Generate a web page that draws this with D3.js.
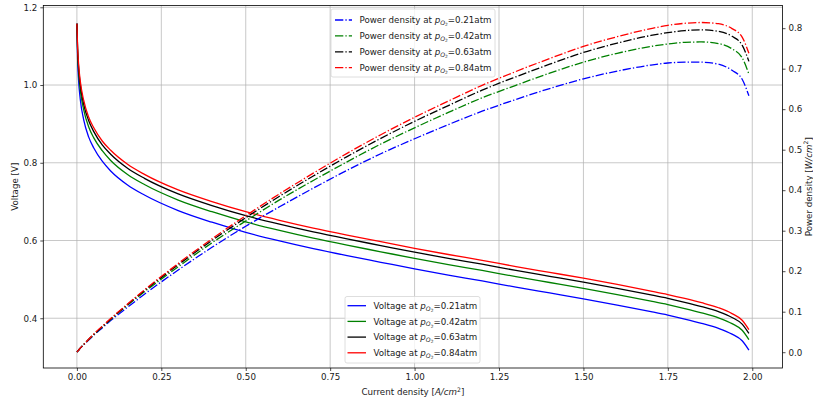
<!DOCTYPE html>
<html>
<head>
<meta charset="utf-8">
<script src="https://cdn.jsdelivr.net/npm/d3@7"></script>
<style>
  body { margin: 0; background: #fff; }
  svg { display: block; }
  text { font-family: "DejaVu Sans", sans-serif; fill: #1a1a1a; }
</style>
</head>
<body>
<svg id="chart" width="813" height="405"></svg>
<script>
// Current density samples [A/cm^2]
const currentDensity = [0, 0.002, 0.005, 0.01, 0.02, 0.035, 0.05, 0.075, 0.1, 0.15, 0.2, 0.3, 0.4, 0.5,
  0.6, 0.7, 0.8, 0.9, 1.0, 1.1, 1.2, 1.3, 1.4, 1.5, 1.6, 1.7, 1.75, 1.8, 1.85, 1.9, 1.94, 1.97, 1.99];

// Oxygen partial pressures and line colours
const pressures = ["0.21", "0.42", "0.63", "0.84"];
const seriesColors = ["#0000ff", "#008000", "#000000", "#ff0000"];

// Cell voltage [V]
const voltage021 = [1.158, 1.068, 1.012, 0.963, 0.911, 0.866, 0.838, 0.804, 0.779, 0.743, 0.717, 0.677, 0.647, 0.621,
  0.599, 0.579, 0.561, 0.544, 0.527, 0.511, 0.496, 0.480, 0.465, 0.450, 0.434, 0.417, 0.408, 0.398, 0.387, 0.374, 0.359, 0.342, 0.318];
const voltage042 = [1.158, 1.085, 1.034, 0.987, 0.937, 0.892, 0.864, 0.831, 0.806, 0.770, 0.744, 0.704, 0.674, 0.648,
  0.626, 0.606, 0.588, 0.571, 0.554, 0.538, 0.523, 0.507, 0.492, 0.477, 0.461, 0.444, 0.435, 0.425, 0.414, 0.401, 0.386, 0.369, 0.345];
const voltage063 = [1.158, 1.094, 1.046, 1.001, 0.951, 0.908, 0.880, 0.846, 0.822, 0.786, 0.760, 0.720, 0.690, 0.664,
  0.642, 0.622, 0.604, 0.587, 0.570, 0.554, 0.539, 0.523, 0.508, 0.493, 0.477, 0.460, 0.451, 0.441, 0.430, 0.417, 0.402, 0.385, 0.361];
const voltage084 = [1.158, 1.100, 1.054, 1.010, 0.961, 0.917, 0.890, 0.856, 0.832, 0.796, 0.770, 0.730, 0.700, 0.674,
  0.652, 0.632, 0.614, 0.597, 0.580, 0.564, 0.549, 0.533, 0.518, 0.503, 0.487, 0.470, 0.461, 0.451, 0.440, 0.427, 0.412, 0.395, 0.371];

// Power density [W/cm^2]
const power021 = [0, 0.002, 0.005, 0.010, 0.018, 0.030, 0.042, 0.060, 0.078, 0.111, 0.143, 0.203, 0.259, 0.311,
  0.359, 0.405, 0.449, 0.490, 0.527, 0.562, 0.595, 0.624, 0.651, 0.675, 0.694, 0.709, 0.714, 0.716, 0.716, 0.711, 0.696, 0.674, 0.633];
const power042 = [0, 0.002, 0.005, 0.010, 0.019, 0.031, 0.043, 0.062, 0.081, 0.116, 0.149, 0.211, 0.270, 0.324,
  0.376, 0.424, 0.470, 0.514, 0.554, 0.592, 0.628, 0.659, 0.689, 0.716, 0.738, 0.755, 0.761, 0.765, 0.766, 0.762, 0.749, 0.727, 0.687];
const power063 = [0, 0.002, 0.005, 0.010, 0.019, 0.032, 0.044, 0.063, 0.082, 0.118, 0.152, 0.216, 0.276, 0.332,
  0.385, 0.435, 0.483, 0.528, 0.570, 0.609, 0.647, 0.680, 0.711, 0.740, 0.763, 0.782, 0.789, 0.794, 0.796, 0.792, 0.780, 0.758, 0.718];
const power084 = [0, 0.002, 0.005, 0.010, 0.019, 0.032, 0.045, 0.064, 0.083, 0.119, 0.154, 0.219, 0.280, 0.337,
  0.391, 0.442, 0.491, 0.537, 0.580, 0.620, 0.659, 0.693, 0.725, 0.755, 0.779, 0.799, 0.807, 0.812, 0.814, 0.811, 0.799, 0.778, 0.738];

// Tick values
const xTicks = [0, 0.25, 0.5, 0.75, 1.0, 1.25, 1.5, 1.75, 2.0];
const voltageTicks = [0.4, 0.6, 0.8, 1.0, 1.2];
const powerTicks = [0, 0.1, 0.2, 0.3, 0.4, 0.5, 0.6, 0.7, 0.8];

const voltageSeries = [voltage021, voltage042, voltage063, voltage084];
const powerSeries = [power021, power042, power063, power084];

const FS = 8.7;
const plot = { left: 43.3, right: 782.5, top: 5.5, bottom: 368 };

const svg = d3.select("#chart");

const x = d3.scaleLinear().domain([-0.0995, 2.0895]).range([plot.left, plot.right]);
const yV = d3.scaleLinear().domain([0.272, 1.2046]).range([plot.bottom, plot.top]);
const yP = d3.scaleLinear().domain([-0.039, 0.856]).range([plot.bottom, plot.top]);

svg.append("defs").append("clipPath").attr("id", "plotClip")
  .append("rect")
  .attr("x", plot.left).attr("y", plot.top)
  .attr("width", plot.right - plot.left).attr("height", plot.bottom - plot.top);

// Grid lines (x ticks and left-axis ticks)
const grid = svg.append("g").attr("stroke", "#b0b0b0").attr("stroke-width", 0.7);
grid.selectAll("line.vx").data(xTicks).join("line")
  .attr("x1", d => x(d)).attr("x2", d => x(d))
  .attr("y1", plot.top).attr("y2", plot.bottom);
grid.selectAll("line.hy").data(voltageTicks).join("line")
  .attr("x1", plot.left).attr("x2", plot.right)
  .attr("y1", d => yV(d)).attr("y2", d => yV(d));

const clipped = svg.append("g").attr("clip-path", "url(#plotClip)");

// Voltage curves (solid)
const voltLine = d3.line()
  .x((d, i) => x(currentDensity[i]))
  .y(d => yV(d))
  .curve(d3.curveMonotoneX);
clipped.append("g").selectAll("path").data(voltageSeries).join("path")
  .attr("d", voltLine)
  .attr("fill", "none")
  .attr("stroke", (d, i) => seriesColors[i])
  .attr("stroke-width", 1.3);

// Power density curves (dash-dot)
const powerLine = d3.line()
  .x((d, i) => x(currentDensity[i]))
  .y(d => yP(d))
  .curve(d3.curveMonotoneX);
const dashDot = "8.3,2.1,1.3,2.1";
clipped.append("g").selectAll("path").data(powerSeries).join("path")
  .attr("d", powerLine)
  .attr("fill", "none")
  .attr("stroke", (d, i) => seriesColors[i])
  .attr("stroke-width", 1.3)
  .attr("stroke-dasharray", dashDot);

// Axes
function styleAxis(g) {
  g.select(".domain").remove();
  g.selectAll(".tick line").attr("stroke", "#000").attr("stroke-width", 0.7);
  g.selectAll(".tick text").attr("font-size", FS).attr("fill", "#1a1a1a")
    .attr("font-family", "DejaVu Sans");
}

svg.append("g")
  .attr("transform", `translate(0,${plot.bottom})`)
  .call(d3.axisBottom(x).tickValues(xTicks).tickFormat(d3.format(".2f")).tickSize(3).tickPadding(3))
  .call(styleAxis);

svg.append("g")
  .attr("transform", `translate(${plot.left},0)`)
  .call(d3.axisLeft(yV).tickValues(voltageTicks).tickFormat(d3.format(".1f")).tickSize(3).tickPadding(3))
  .call(styleAxis);

svg.append("g")
  .attr("transform", `translate(${plot.right},0)`)
  .call(d3.axisRight(yP).tickValues(powerTicks).tickFormat(d3.format(".1f")).tickSize(3).tickPadding(3))
  .call(styleAxis);

// Frame
svg.append("rect")
  .attr("x", plot.left).attr("y", plot.top)
  .attr("width", plot.right - plot.left).attr("height", plot.bottom - plot.top)
  .attr("fill", "none").attr("stroke", "#000").attr("stroke-width", 0.8);

// Axis labels
function unitLabel(sel, before, unit, after) {
  sel.append("tspan").text(before);
  sel.append("tspan").attr("font-style", "italic").text(unit);
  sel.append("tspan").attr("font-size", FS * 0.7).attr("dy", -FS * 0.4).text("2");
  sel.append("tspan").attr("dy", FS * 0.4).text(after);
}

const xLabel = svg.append("text")
  .attr("x", (x(-0.0995) + x(2.0895)) / 2).attr("y", 395)
  .attr("text-anchor", "middle").attr("font-size", FS);
unitLabel(xLabel, "Current density [", "A/cm", "]");

const midY = (plot.top + plot.bottom) / 2;
svg.append("text")
  .attr("transform", `translate(18,${midY}) rotate(-90)`)
  .attr("text-anchor", "middle").attr("font-size", FS)
  .text("Voltage [V]");

const rLabel = svg.append("text")
  .attr("transform", `translate(811.5,${midY}) rotate(-90)`)
  .attr("text-anchor", "middle").attr("font-size", FS);
unitLabel(rLabel, "Power density [", "W/cm", "]");

// Legends
function pressureLabel(sel, prefix, p) {
  sel.append("tspan").text(prefix);
  sel.append("tspan").attr("font-style", "italic").text("p");
  sel.append("tspan").attr("font-style", "italic").attr("font-size", FS * 0.7).attr("dy", FS * 0.22).text("O");
  sel.append("tspan").attr("font-size", FS * 0.5).attr("dy", FS * 0.14).text("2");
  sel.append("tspan").attr("dy", -FS * 0.36).text(`=${p}atm`);
}

function legend(box, rows0, rowStep, sampleX0, sampleX1, textX, prefix, dash) {
  const g = svg.append("g");
  g.append("rect")
    .attr("x", box.x).attr("y", box.y).attr("width", box.w).attr("height", box.h)
    .attr("rx", 2).attr("ry", 2)
    .attr("fill", "#fff").attr("fill-opacity", 0.8)
    .attr("stroke", "#d6d6d6").attr("stroke-width", 0.8);
  pressures.forEach((p, i) => {
    const cy = rows0 + i * rowStep;
    g.append("line")
      .attr("x1", sampleX0).attr("x2", sampleX1).attr("y1", cy).attr("y2", cy)
      .attr("stroke", seriesColors[i]).attr("stroke-width", 1.3)
      .attr("stroke-dasharray", dash);
    const t = g.append("text").attr("x", textX).attr("y", cy + 3.1).attr("font-size", FS);
    pressureLabel(t, prefix, p);
  });
}

legend({ x: 331, y: 9, w: 164, h: 68 }, 20, 15.9, 335, 352, 359.5, "Power density at ", dashDot);
legend({ x: 345, y: 296.5, w: 135, h: 66.5 }, 305.7, 15.7, 347.5, 366, 373.5, "Voltage at ", null);
</script>
</body>
</html>
